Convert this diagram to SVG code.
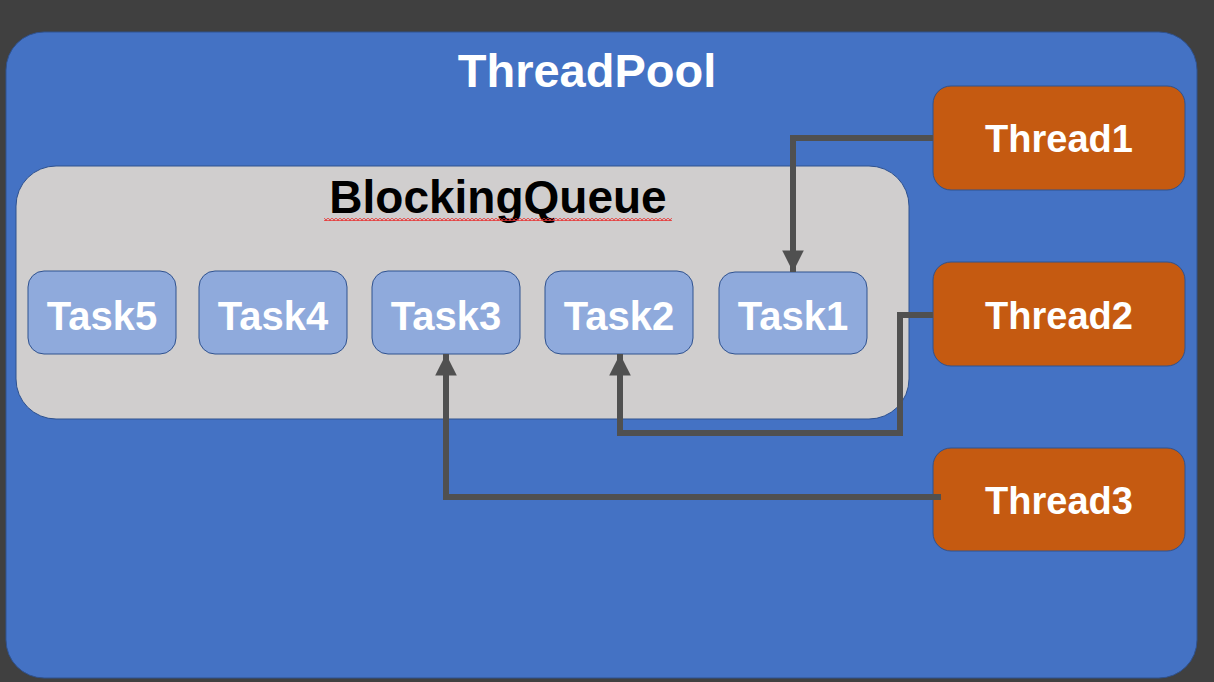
<svg xmlns="http://www.w3.org/2000/svg" width="1214" height="682" viewBox="0 0 1214 682">
  <defs>
    <style>
      .lbl { font-family: "Liberation Sans", Arial, sans-serif; font-weight: bold; text-anchor: middle; }
      .white { fill: #FFFFFF; }
      .task { fill: #8FAADC; stroke: #2F528F; stroke-width: 1; }
      .thread { fill: #C55A11; stroke: #2F528F; stroke-width: 1; }
      .conn { fill: none; stroke: #505050; stroke-width: 6; stroke-linejoin: miter; }
    </style>
    <marker id="arrow" viewBox="0 0 10 10" refX="10" refY="5" markerWidth="3.6" markerHeight="3.6" orient="auto" markerUnits="strokeWidth">
      <path d="M0,0 L10,5 L0,10 Z" fill="#505050"/>
    </marker>
    <pattern id="squiggle" x="0" y="0" width="4" height="3" patternUnits="userSpaceOnUse">
      <path d="M0,2.5 L2,0.5 L4,2.5" fill="none" stroke="#E83030" stroke-width="1.2"/>
    </pattern>
  </defs>

  <rect x="0" y="0" width="1214" height="682" fill="#404040"/>

  <g id="threadpool">
    <rect x="6" y="32" width="1191" height="646" rx="38" ry="38" fill="#4472C4" stroke="#2F528F" stroke-width="1"/>
    <text class="lbl white" x="587" y="87" font-size="47">ThreadPool</text>
  </g>

  <g id="blockingqueue">
    <rect x="16" y="166" width="893" height="253" rx="40" ry="40" fill="#D0CECE" stroke="#2F528F" stroke-width="1"/>
    <text class="lbl" x="498" y="213" font-size="46" fill="#000000">BlockingQueue</text>
    <rect x="324" y="218" width="348" height="3" fill="url(#squiggle)"/>
  </g>

  <g id="task5">
    <rect class="task" x="28" y="271" width="148" height="83" rx="16" ry="16"/>
    <text class="lbl white" x="102" y="330" font-size="40">Task5</text>
  </g>
  <g id="task4">
    <rect class="task" x="199" y="271" width="148" height="83" rx="16" ry="16"/>
    <text class="lbl white" x="273" y="330" font-size="40">Task4</text>
  </g>
  <g id="task3">
    <rect class="task" x="372" y="271" width="148" height="83" rx="16" ry="16"/>
    <text class="lbl white" x="446" y="330" font-size="40">Task3</text>
  </g>
  <g id="task2">
    <rect class="task" x="545" y="271" width="148" height="83" rx="16" ry="16"/>
    <text class="lbl white" x="619" y="330" font-size="40">Task2</text>
  </g>
  <g id="task1">
    <rect class="task" x="719" y="272" width="148" height="82" rx="16" ry="16"/>
    <text class="lbl white" x="793" y="330" font-size="40">Task1</text>
  </g>

  <g id="thread1">
    <rect class="thread" x="933" y="86" width="252" height="104" rx="18" ry="18"/>
    <text class="lbl white" x="1059" y="152" font-size="38">Thread1</text>
  </g>
  <g id="thread2">
    <rect class="thread" x="933" y="262" width="252" height="104" rx="18" ry="18"/>
    <text class="lbl white" x="1059" y="329" font-size="38">Thread2</text>
  </g>
  <g id="thread3">
    <rect class="thread" x="933" y="448" width="252" height="103" rx="18" ry="18"/>
    <text class="lbl white" x="1059" y="514" font-size="38">Thread3</text>
  </g>

  <g id="connectors">
    <path class="conn" d="M933,138 L793,138 L793,272" marker-end="url(#arrow)"/>
    <path class="conn" d="M933,315 L900,315 L900,433 L620,433 L620,354" marker-end="url(#arrow)"/>
    <path class="conn" d="M941,497 L446,497 L446,354" marker-end="url(#arrow)"/>
  </g>
</svg>
